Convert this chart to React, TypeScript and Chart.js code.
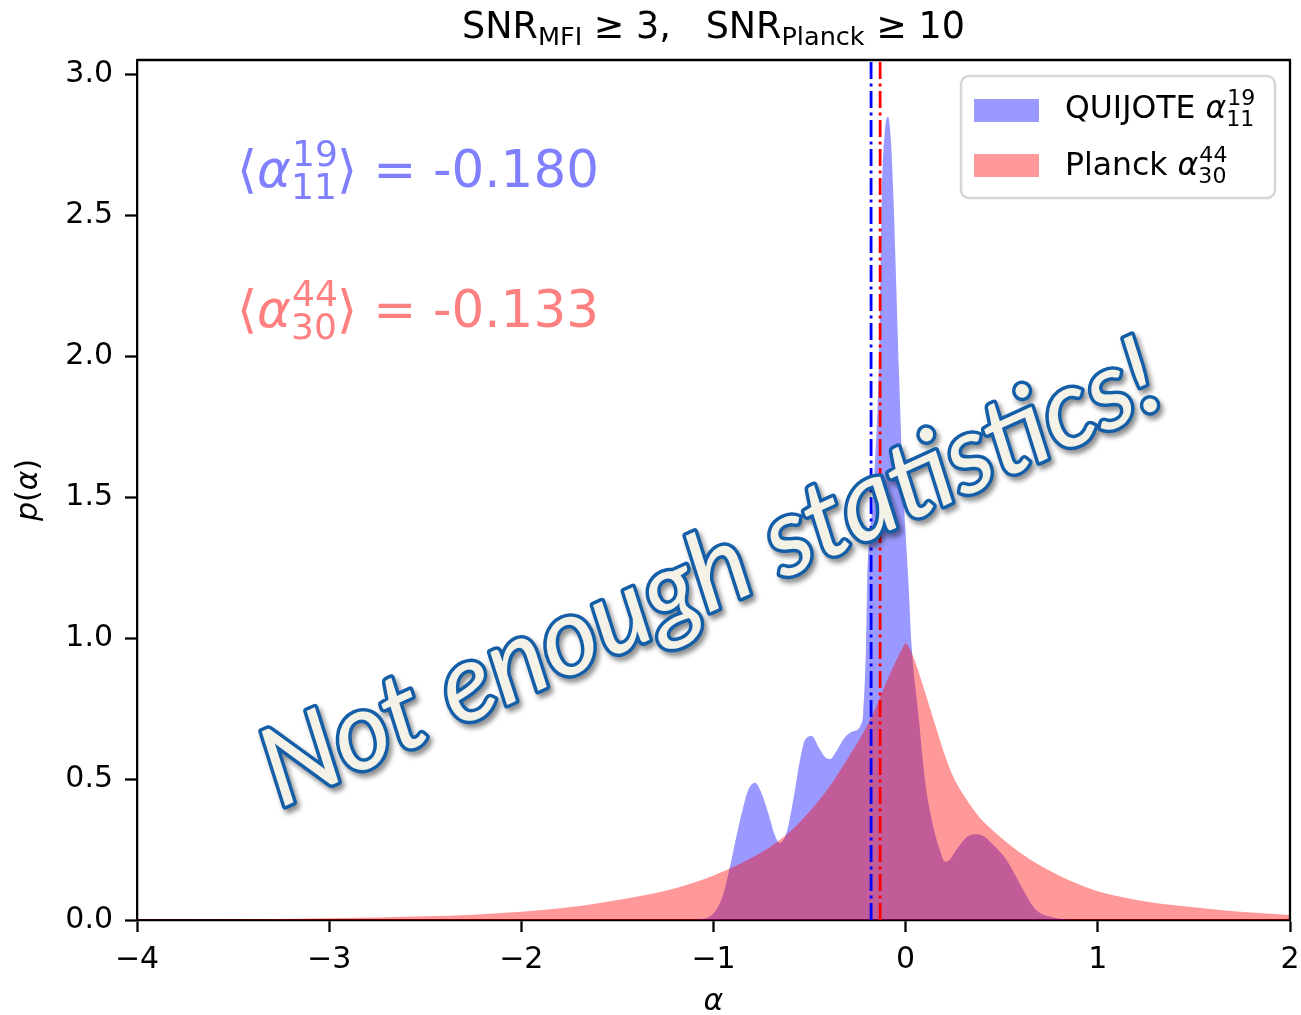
import React, { useEffect, useRef } from 'react';
import { Chart, registerables } from 'chart.js';

Chart.register(...registerables);

// ---- data ----
const quijoteAlpha = [-1.15, -1.07, -1.0, -0.95, -0.914, -0.88, -0.853, -0.82, -0.784, -0.75, -0.715, -0.68, -0.654, -0.62, -0.585, -0.55, -0.524, -0.489, -0.45, -0.42, -0.394, -0.36, -0.32, -0.281, -0.25, -0.235, -0.221, -0.2065, -0.2, -0.17, -0.139, -0.1237, -0.108, -0.0916, -0.076, -0.0644, -0.0494, -0.0346, -0.014, 0.0138, 0.0313, 0.0657, 0.1006, 0.1438, 0.18, 0.2047, 0.23, 0.27, 0.32, 0.374, 0.41, 0.439, 0.48, 0.525, 0.57, 0.612, 0.664, 0.7, 0.751, 0.8, 0.85, 0.95];
const quijoteDensity = [0, 0.003, 0.024, 0.09, 0.19, 0.3, 0.379, 0.46, 0.487, 0.45, 0.379, 0.3, 0.273, 0.31, 0.426, 0.568, 0.639, 0.653, 0.61, 0.578, 0.571, 0.6, 0.645, 0.668, 0.675, 0.69, 0.734, 0.97, 1.2, 1.5, 1.99, 2.58, 2.8, 2.85, 2.76, 2.58, 2.26, 1.94, 1.55, 1.207, 0.97, 0.734, 0.497, 0.331, 0.245, 0.207, 0.215, 0.255, 0.295, 0.304, 0.295, 0.278, 0.25, 0.213, 0.16, 0.106, 0.047, 0.025, 0.012, 0.004, 0.001, 0];

const planckAlpha = [-4, -3.5, -3, -2.5, -2.25, -2, -1.75, -1.5, -1.25, -1.1, -1.0, -0.9, -0.8, -0.7, -0.6, -0.5, -0.4, -0.3, -0.2, -0.133, -0.1, -0.05, -0.02, 0, 0.02, 0.05, 0.075, 0.1, 0.15, 0.213, 0.25, 0.3, 0.387, 0.45, 0.5, 0.56, 0.6, 0.7, 0.8, 0.9, 1.0, 1.15, 1.3, 1.5, 1.65, 1.8, 2.0];
const planckDensity = [0.0005, 0.002, 0.006, 0.013, 0.019, 0.029, 0.045, 0.071, 0.104, 0.133, 0.158, 0.187, 0.222, 0.262, 0.315, 0.385, 0.47, 0.575, 0.69, 0.79, 0.845, 0.92, 0.96, 0.982, 0.965, 0.915, 0.864, 0.81, 0.7, 0.568, 0.505, 0.445, 0.362, 0.32, 0.29, 0.257, 0.237, 0.193, 0.157, 0.127, 0.102, 0.078, 0.06, 0.045, 0.035, 0.027, 0.018];

const meanQuijote = -0.18;
const meanPlanck = -0.133;
const meanQuijoteLabel = '-0.180';
const meanPlanckLabel = '-0.133';

const xTicks = [-4, -3, -2, -1, 0, 1, 2];
const yTicks = [0, 0.5, 1.0, 1.5, 2.0, 2.5, 3.0];

const FONT = '"DejaVu Sans", sans-serif';

type Seg = { t?: string; it?: boolean; sc?: number; dy?: number; sup?: string; sub?: string };

function fnt(size: number, italic?: boolean) {
  return `${italic ? 'italic ' : ''}${size}px ${FONT}`;
}

function segWidth(ctx: CanvasRenderingContext2D, s: Seg, size: number) {
  if (s.sup !== undefined || s.sub !== undefined) {
    ctx.font = fnt(size * 0.7);
    return Math.max(ctx.measureText(s.sup || '').width, ctx.measureText(s.sub || '').width);
  }
  ctx.font = fnt(size * (s.sc || 1), s.it);
  return ctx.measureText(s.t || '').width;
}

function drawRich(ctx: CanvasRenderingContext2D, segs: Seg[], x: number, y: number, size: number, color: string, align: 'left' | 'center') {
  let total = 0;
  for (const s of segs) total += segWidth(ctx, s, size);
  let cx = align === 'center' ? x - total / 2 : x;
  ctx.save();
  ctx.fillStyle = color;
  ctx.textAlign = 'left';
  ctx.textBaseline = 'alphabetic';
  for (const s of segs) {
    const w = segWidth(ctx, s, size);
    if (s.sup !== undefined || s.sub !== undefined) {
      ctx.font = fnt(size * 0.7);
      if (s.sup) ctx.fillText(s.sup, cx + 1, y - size * 0.41);
      if (s.sub) ctx.fillText(s.sub, cx, y + size * 0.24);
    } else {
      ctx.font = fnt(size * (s.sc || 1), s.it);
      ctx.fillText(s.t || '', cx, y + (s.dy || 0) * size);
    }
    cx += w;
  }
  ctx.restore();
}

const overlayPlugin = {
  id: 'overlay',
  afterDatasetsDraw(chart: any) {
    const ctx: CanvasRenderingContext2D = chart.ctx;
    const { left, right, top, bottom } = chart.chartArea;
    const xs = chart.scales.x;

    // mean lines
    const lines: [number, string][] = [[meanQuijote, '#0000ff'], [meanPlanck, '#ff0000']];
    for (const [v, c] of lines) {
      const px = xs.getPixelForValue(v);
      ctx.save();
      ctx.strokeStyle = c;
      ctx.lineWidth = 2.8;
      ctx.setLineDash([17, 4.5, 3, 4.5]);
      ctx.beginPath();
      ctx.moveTo(px, bottom);
      ctx.lineTo(px, top);
      ctx.stroke();
      ctx.restore();
    }

    // top and right spines
    ctx.save();
    ctx.strokeStyle = '#000';
    ctx.lineWidth = 2.3;
    ctx.beginPath();
    ctx.moveTo(left, top);
    ctx.lineTo(right, top);
    ctx.lineTo(right, bottom);
    ctx.stroke();
    ctx.restore();

    // annotation texts
    drawRich(ctx, [{ t: '⟨' }, { t: 'α', it: true }, { sup: '19', sub: '11' }, { t: '⟩ = ' + meanQuijoteLabel }], 237, 187, 51.5, '#8080ff', 'left');
    drawRich(ctx, [{ t: '⟨' }, { t: 'α', it: true }, { sup: '44', sub: '30' }, { t: '⟩ = ' + meanPlanckLabel }], 237, 327, 51.5, '#ff8080', 'left');

    // legend
    ctx.save();
    const lx = 961, ly = 76, lw = 314, lh = 122, r = 8;
    ctx.beginPath();
    ctx.moveTo(lx + r, ly);
    ctx.arcTo(lx + lw, ly, lx + lw, ly + lh, r);
    ctx.arcTo(lx + lw, ly + lh, lx, ly + lh, r);
    ctx.arcTo(lx, ly + lh, lx, ly, r);
    ctx.arcTo(lx, ly, lx + lw, ly, r);
    ctx.closePath();
    ctx.fillStyle = 'rgba(255,255,255,0.8)';
    ctx.fill();
    ctx.strokeStyle = '#d6d6d6';
    ctx.lineWidth = 2.5;
    ctx.stroke();
    ctx.fillStyle = 'rgba(0,0,255,0.4)';
    ctx.fillRect(974, 99, 65, 23);
    ctx.fillStyle = 'rgba(255,0,0,0.4)';
    ctx.fillRect(974, 154, 65, 23);
    ctx.restore();
    drawRich(ctx, [{ t: 'QUIJOTE ' }, { t: 'α', it: true }, { sup: '19', sub: '11' }], 1065, 118, 31.5, '#000', 'left');
    drawRich(ctx, [{ t: 'Planck ' }, { t: 'α', it: true }, { sup: '44', sub: '30' }], 1065, 175, 31.5, '#000', 'left');
  },
  afterDraw(chart: any) {
    const ctx: CanvasRenderingContext2D = chart.ctx;
    const { left, right, top, bottom } = chart.chartArea;
    const cxm = (left + right) / 2;

    // title
    drawRich(ctx, [
      { t: 'SNR' }, { t: 'MFI', sc: 0.7, dy: 0.18 }, { t: ' ≥ 3,   ' },
      { t: 'SNR' }, { t: 'Planck', sc: 0.7, dy: 0.18 }, { t: ' ≥ 10' },
    ], cxm, 38, 36.5, '#000', 'center');

    // axis labels
    drawRich(ctx, [{ t: 'α', it: true }], cxm, 1010, 30, '#000', 'center');
    ctx.save();
    ctx.translate(37, (top + bottom) / 2);
    ctx.rotate(-Math.PI / 2);
    drawRich(ctx, [{ t: 'p', it: true }, { t: '(' }, { t: 'α', it: true }, { t: ')' }], 0, 0, 30, '#000', 'center');
    ctx.restore();

    // word-art stamp
    ctx.save();
    ctx.translate(724, 606);
    ctx.rotate(-24.5 * Math.PI / 180);
    const txt = 'Not enough statistics!';
    ctx.font = 'italic 100px Lato, "Open Sans", sans-serif';
    const w100 = ctx.measureText(txt).width;
    const size = 100 * 975 / w100;
    ctx.font = `italic ${size}px Lato, "Open Sans", sans-serif`;
    ctx.textAlign = 'center';
    ctx.textBaseline = 'alphabetic';
    ctx.lineJoin = 'round';
    ctx.shadowColor = 'rgba(0,0,0,0.45)';
    ctx.shadowOffsetX = 3;
    ctx.shadowOffsetY = 4;
    ctx.shadowBlur = 5;
    ctx.strokeStyle = '#145ea8';
    ctx.lineWidth = 7;
    ctx.strokeText(txt, 0, 0);
    ctx.shadowColor = 'rgba(0,0,0,0)';
    ctx.fillStyle = '#f4f2e6';
    ctx.fillText(txt, 0, 0);
    ctx.restore();
  },
};

export default function App() {
  const ref = useRef<HTMLCanvasElement | null>(null);
  useEffect(() => {
    if (!ref.current) return;
    const chart = new Chart(ref.current, {
      type: 'line',
      data: {
        datasets: [
          {
            label: 'Planck',
            data: planckAlpha.map((a, i) => ({ x: a, y: planckDensity[i] })),
            fill: 'origin',
            backgroundColor: 'rgba(255,0,0,0.4)',
            borderColor: 'rgba(0,0,0,0)',
            borderWidth: 0,
            pointRadius: 0,
            cubicInterpolationMode: 'monotone',
          },
          {
            label: 'QUIJOTE',
            data: quijoteAlpha.map((a, i) => ({ x: a, y: quijoteDensity[i] })),
            fill: 'origin',
            backgroundColor: 'rgba(0,0,255,0.4)',
            borderColor: 'rgba(0,0,0,0)',
            borderWidth: 0,
            pointRadius: 0,
            cubicInterpolationMode: 'monotone',
          },
        ],
      },
      options: {
        responsive: false,
        animation: false,
        events: [],
        layout: { padding: { left: 0, right: 11, top: 60, bottom: 0 } },
        plugins: { legend: { display: false }, title: { display: false }, tooltip: { enabled: false } },
        scales: {
          x: {
            type: 'linear',
            min: -4,
            max: 2,
            afterBuildTicks: (s: any) => { s.ticks = xTicks.map((v) => ({ value: v })); },
            afterFit: (s: any) => { s.height = 95; s.paddingLeft = 0; s.paddingRight = 0; },
            ticks: {
              color: '#000',
              font: { family: FONT, size: 30 },
              padding: 10,
              maxRotation: 0,
              callback: (v: any) => String(v).replace('-', '\u2212'),
            },
            grid: { drawOnChartArea: false, tickLength: 12, tickWidth: 2.3, tickColor: '#000' },
            border: { color: '#000', width: 2.3 },
          },
          y: {
            type: 'linear',
            min: 0,
            max: 3.051,
            afterBuildTicks: (s: any) => { s.ticks = yTicks.map((v) => ({ value: v })); },
            afterFit: (s: any) => { s.width = 137; s.paddingTop = 0; s.paddingBottom = 0; },
            ticks: {
              color: '#000',
              font: { family: FONT, size: 30 },
              padding: 12,
              callback: (v: any) => Number(v).toFixed(1),
            },
            grid: { drawOnChartArea: false, tickLength: 12, tickWidth: 2.3, tickColor: '#000' },
            border: { color: '#000', width: 2.3 },
          },
        },
      } as any,
      plugins: [overlayPlugin],
    });
    return () => chart.destroy();
  }, []);
  return (
    <div style={{ position: 'absolute', left: 0, top: 0, width: 1301, height: 1015, background: '#fff' }}>
      <canvas ref={ref} width={1301} height={1015} style={{ width: 1301, height: 1015 }} />
    </div>
  );
}
